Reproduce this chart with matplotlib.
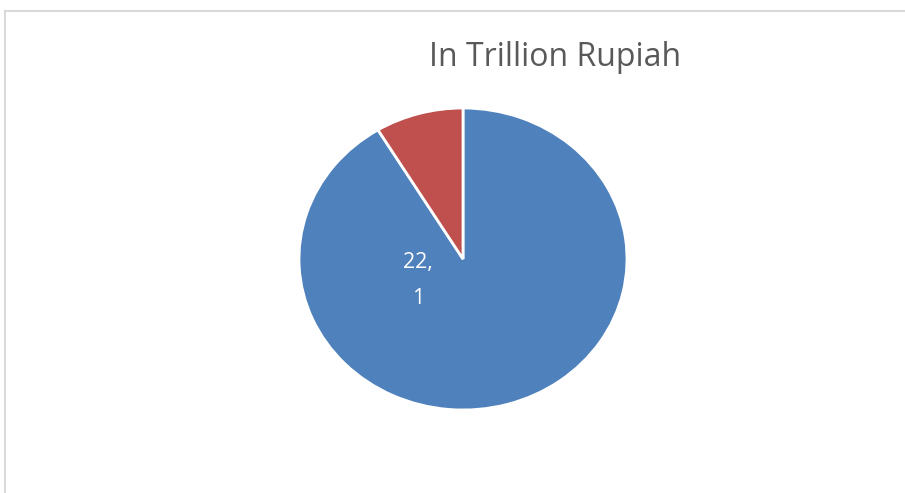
import matplotlib
matplotlib.use("Agg")
import matplotlib.pyplot as plt
from matplotlib.lines import Line2D

categories = ["A", "B"]
values = [22.1, 2.1]
colors = ["#4f81bd", "#c0504d"]
title = "In Trillion Rupiah"
label_text = "22,\n1"

W, H = 905, 493
fig = plt.figure(figsize=(W / 100, H / 100), dpi=100)
fig.patch.set_facecolor("white")

# frame lines
fig.add_artist(Line2D([5 / W, 1], [1 - 11 / H, 1 - 11 / H], color="#d9d9d9", lw=1.5, transform=fig.transFigure))
fig.add_artist(Line2D([5 / W, 5 / W], [0, 1 - 11 / H], color="#d9d9d9", lw=1.5, transform=fig.transFigure))

ax = fig.add_axes([299 / W, 83 / H, 328 / W, 302 / H])
ax.pie(values, colors=colors, startangle=90, counterclock=False,
       wedgeprops=dict(edgecolor="white", linewidth=2.0))
ax.set_aspect("auto")
ax.set_xlim(-1, 1)
ax.set_ylim(-1, 1)
ax.text(-0.275, -0.14, label_text, color="white", fontsize=15.5, family="Open Sans",
        ha="center", va="center", linespacing=1.95)

fig.text(555 / W, 1 - 57 / H, title, ha="center", va="center", fontsize=23,
         color="#595959", family="Open Sans")

fig.savefig("out.png", dpi=100)
